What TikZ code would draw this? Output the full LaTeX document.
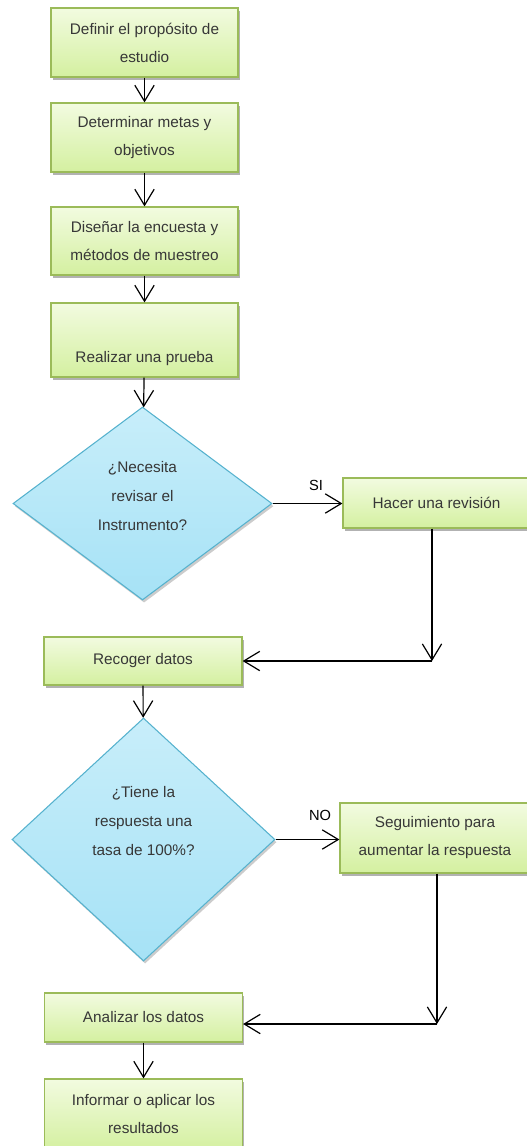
\documentclass[tikz,border=0pt]{standalone}
\usepackage{fontspec}
\setmainfont{Liberation Sans}
\usetikzlibrary{arrows.meta}
\usetikzlibrary{shapes.geometric}
\usetikzlibrary{shadows}

\definecolor{boxtop}{RGB}{242,251,224}
\definecolor{boxbot}{RGB}{212,240,160}
\definecolor{boxline}{RGB}{155,187,89}
\definecolor{dectop}{RGB}{200,238,250}
\definecolor{decbot}{RGB}{166,226,246}
\definecolor{decline}{RGB}{86,178,206}
\definecolor{txtgray}{RGB}{55,55,55}

\begin{document}
\begin{tikzpicture}[x=0.75pt,y=0.75pt,yscale=-1,xscale=1,
  stepbox/.style={rectangle,draw=boxline,line width=0.9pt,top color=boxtop,bottom color=boxbot,
    drop shadow={shadow xshift=1.2pt,shadow yshift=-2pt,fill=black,opacity=0.3},
    text=txtgray,align=center,inner sep=2pt,font=\fontsize{11.5}{21}\selectfont},
  decision/.style={diamond,draw=decline,line width=0.8pt,top color=dectop,bottom color=decbot,
    drop shadow={shadow xshift=1.2pt,shadow yshift=-2pt,fill=black,opacity=0.2},inner sep=0pt},
  qtext/.style={text=txtgray,align=center,inner sep=0.75pt,font=\fontsize{11.5}{21.5}\selectfont},
  answer/.style={inner sep=0.75pt,font=\fontsize{11}{12}\selectfont},
  flow/.style={line width=0.9pt,-{Straight Barb[length=12pt,width=14.5pt,line width=0.9pt]}}]
\clip (0,0) rectangle (527,1146);

%Shape: Rectangles
\node[stepbox,minimum width=140.25pt,minimum height=51.75pt] (def) at (144.5,42.5) {Definir el propósito de\\estudio};
\node[stepbox,minimum width=140.25pt,minimum height=51.75pt] (metas) at (144.5,137.5) {Determinar metas y\\objetivos};
\node[stepbox,minimum width=140.25pt,minimum height=51pt] (diseno) at (144.5,241) {Diseñar la encuesta y\\métodos de muestreo};
\node[stepbox,minimum width=140.25pt,minimum height=55.5pt] (prueba) at (144.5,340) {\strut\\Realizar una prueba};

%Shape: Diamond
\node[decision,minimum width=194.25pt,minimum height=144.75pt] (q1) at (142.5,503.5) {};
% Text Node
\node[qtext] (q1t) at (142.5,496) {¿Necesita\\revisar el\\Instrumento?};

\node[stepbox,minimum width=140.25pt,minimum height=37.5pt] (rev) at (436.5,503) {Hacer una revisión};
\node[stepbox,minimum width=148.5pt,minimum height=36pt] (recoger) at (143,661) {Recoger datos};

%Shape: Diamond
\node[decision,minimum width=197.25pt,minimum height=182.25pt] (q2) at (143.5,839.5) {};
% Text Node
\node[qtext] (q2t) at (143.5,821) {¿Tiene la\\respuesta una\\tasa de 100\%?};

\node[stepbox,minimum width=142.5pt,minimum height=52.5pt] (seg) at (435,838) {Seguimiento para\\aumentar la respuesta};
\node[stepbox,minimum width=148.5pt,minimum height=36.75pt] (analizar) at (143.5,1017.5) {Analizar los datos};
\node[stepbox,minimum width=148.5pt,minimum height=53.25pt] (informar) at (143.5,1114.5) {Informar o aplicar los\\resultados};

% Text Node
\node[answer] (si) at (316,485) {SI};
\node[answer] (no) at (320,815) {NO};

%Straight Lines
\coordinate (c1) at (432,661);
\coordinate (c2) at (437,1024);
\draw[flow] (def) -- (metas);
\draw[flow] (metas) -- (diseno);
\draw[flow] (diseno) -- (prueba);
\draw[flow] (prueba) -- (q1);
\draw[flow] (q1.east) -- (q1.east -| rev.west);
\draw[flow] (rev.south -| c1) -- (c1);
\draw[flow] (c1) -- (recoger.east |- c1);
\draw[flow] (recoger) -- (q2);
\draw[flow] (q2.east) -- (q2.east -| seg.west);
\draw[flow] (seg.south -| c2) -- (c2);
\draw[flow] (c2) -- (analizar.east |- c2);
\draw[flow] (analizar) -- (informar);

\end{tikzpicture}
\end{document}
